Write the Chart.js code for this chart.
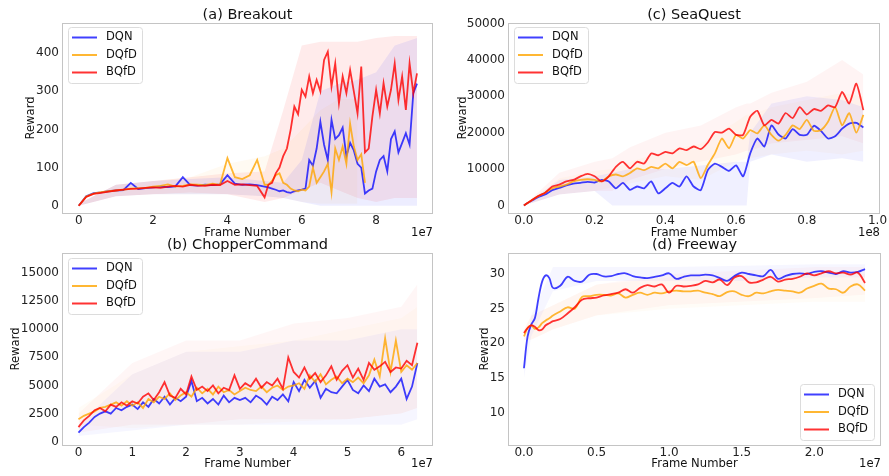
<!DOCTYPE html>
<html>
<head>
<meta charset="utf-8">
<script src="https://cdn.jsdelivr.net/npm/chart.js@4.4.1/dist/chart.umd.min.js"></script>
<style>
  body { margin: 0; background: #fff; width: 889px; height: 476px; position: relative; overflow: hidden; }
  canvas { position: absolute; }
</style>
</head>
<body>
<canvas id="breakout" width="445" height="240" style="left:0px;top:0px"></canvas>
<canvas id="seaquest" width="444" height="240" style="left:445px;top:0px"></canvas>
<canvas id="chopper" width="445" height="240" style="left:0px;top:236px"></canvas>
<canvas id="freeway" width="444" height="240" style="left:445px;top:236px"></canvas>
<script>
const FONT = "'DejaVu Sans', sans-serif";
const seriesNames = ['DQN', 'DQfD', 'BQfD'];
const lineColors = ['rgba(0, 0, 255, 0.75)', 'rgba(255, 165, 0, 0.8)', 'rgba(255, 0, 0, 0.8)'];
const bandRgb = ['0, 0, 255', '255, 165, 0', '255, 0, 0'];

// (a) Breakout, frames in 1e7
const breakoutFrames = [0, 0.2, 0.4, 0.6, 0.8, 1.0, 1.2, 1.4, 1.6, 1.8, 2.0, 2.2, 2.4, 2.6, 2.8, 3.0, 3.2, 3.4, 3.6, 3.8, 4.0, 4.2, 4.4, 4.6, 4.8, 5.0,
  5.1, 5.2, 5.3, 5.4, 5.5, 5.6, 5.7, 5.8, 5.9, 6.0, 6.1, 6.2, 6.3, 6.4, 6.5, 6.6, 6.7, 6.8, 6.9,
  7.0, 7.1, 7.2, 7.3, 7.4, 7.5, 7.6, 7.7, 7.8, 7.9, 8.0, 8.1, 8.2, 8.3, 8.4, 8.5, 8.6, 8.7, 8.8, 8.9, 9.0, 9.1];
const breakoutDQN = [0, 25, 33, 35, 38, 40, 41, 60, 44, 46, 48, 50, 49, 51, 75, 54, 53, 55, 54, 56, 80, 58, 55, 56, 54, 50,
  48, 45, 42, 38, 40, 36, 34, 38, 40, 42, 45, 120, 105, 150, 220, 160, 120, 225, 175,
  185, 205, 130, 165, 145, 110, 100, 32, 40, 45, 90, 120, 130, 90, 175, 195, 140, 165, 190, 160, 295, 320];
const breakoutDQfD = [0, 24, 32, 36, 38, 40, 42, 45, 46, 47, 50, 52, 56, 50, 52, 56, 55, 54, 58, 55, 125, 75, 70, 80, 120, 55,
  55, 65, 80, 85, 60, 55, 45, 40, 38, 42, 40, 50, 100, 60, 75, 90, 110, 35, 150,
  120, 155, 110, 215, 155, 120, 135, 60, null, null, null, null, null, null, null, null, null, null, null, null, null, null];
const breakoutBQfD = [0, 23, 31, 34, 37, 40, 42, 44, 45, 47, 48, 47, 50, 52, 50, 55, 53, 52, 55, 54, 65, 55, 56, 54, 52, 22,
  55, 60, 85, 100, 130, 150, 199, 260, 240, 304, 286, 339, 295, 330, 300, 382, 404, 312, 373,
  269, 339, 295, 356, 300, 242, 365, 140, 150, 234, 304, 242, 321, 260, 304, 373, 277, 339, 251, 373, 295, 347];
const breakoutBandFrames = [0, 1, 2, 3, 4, 5, 5.5, 6, 6.5, 7, 7.5, 8, 8.5, 9.1];
const breakoutBandLow = [
  [0, 25, 30, 30, 30, 25, 20, 10, 0, 0, 0, 0, 0, 0],
  [0, 25, 30, 30, 30, 25, 20, 10, 5, 5, 5, null, null, null],
  [0, 25, 30, 35, 30, 10, 20, 40, 60, 40, 20, 10, 20, 20]];
const breakoutBandHigh = [
  [5, 55, 65, 70, 75, 65, 60, 120, 300, 320, 330, 350, 420, 440],
  [5, 55, 65, 75, 110, 130, 150, 200, 250, 280, 280, null, null, null],
  [5, 55, 65, 75, 85, 90, 250, 420, 430, 430, 430, 440, 445, 445]];
const breakoutXTicks = [0, 2, 4, 6, 8];
const breakoutYTicks = [0, 100, 200, 300, 400];

// (c) SeaQuest, frames in 1e8
const seaFrames = [0, 0.02, 0.04, 0.06, 0.08, 0.10, 0.12, 0.14, 0.16, 0.18, 0.20, 0.22, 0.24, 0.26, 0.28, 0.30, 0.32, 0.34, 0.36, 0.38,
  0.40, 0.42, 0.44, 0.46, 0.48, 0.50, 0.52, 0.54, 0.56, 0.58, 0.60, 0.62, 0.64, 0.66, 0.68, 0.70, 0.72, 0.74, 0.76, 0.78,
  0.80, 0.82, 0.84, 0.86, 0.88, 0.90, 0.92, 0.94, 0.96];
const seaDQN = [0, 1200, 2300, 3000, 4200, 4800, 5500, 6000, 6200, 6500, 6300, 7000, 6600, 4700, 6200, 4300, 5200, 4700, 6600, 3300,
  4700, 6200, 5200, 8000, 5200, 4200, 9700, 11500, 10600, 9500, 11000, 8000, 14300, 18400, 16200, 22000, 19500, 18400, 21000, 19400,
  19400, 21900, 20500, 18400, 19000, 21100, 22500, 22700, 21400];
const seaDQfD = [0, 1300, 2500, 3500, 4700, 5200, 5700, 6600, 7000, 7200, 7000, 6600, 8000, 8500, 8000, 8900, 10200, 9700, 10600, 10200,
  11500, 10200, 12000, 11100, 12000, 7500, 11100, 14300, 18400, 15700, 19400, 18400, 20700, 19800, 22000, 19400, 17800, 19400, 22000, 21000,
  23500, 20500, 20700, 23000, 27000, 22000, 25400, 20000, 24900];
const seaBQfD = [0, 1300, 2600, 3500, 5200, 5700, 6600, 7000, 8000, 8700, 8000, 6600, 8000, 10600, 12000, 10200, 12000, 11500, 14300, 13800,
  14700, 14300, 15700, 15200, 16200, 15500, 17300, 20200, 20000, 21100, 19400, 19400, 24400, 26000, 22000, 23500, 22500, 25400, 24000, 27000,
  25000, 26500, 26000, 27500, 27000, 31200, 28000, 33500, 26200];
const seaBandFrames = [0, 0.1, 0.2, 0.25, 0.3, 0.4, 0.5, 0.6, 0.63, 0.64, 0.7, 0.8, 0.9, 0.96];
const seaBandLow = [
  [0, 3000, 4000, 0, 0, 0, 0, 0, 0, 12000, 14000, 12000, 13000, 12000],
  [0, 3000, 4000, 5000, 6000, 8000, 7000, 12000, 13000, 13000, 14000, 15000, 14000, 15000],
  [0, 3000, 4000, 4000, 7000, 10000, 12000, 14000, 15000, 15000, 17000, 18000, 19000, 17000]];
const seaBandHigh = [
  [0, 7000, 8000, 9000, 10000, 10000, 11000, 12000, 12000, 20000, 28000, 30000, 29000, 27000],
  [0, 7500, 9500, 10000, 12000, 15000, 17000, 23000, 25000, 25000, 27000, 29000, 31000, 30000],
  [0, 9000, 12000, 13000, 16000, 20000, 22000, 27000, 28000, 28000, 31000, 34000, 40000, 36000]];
const seaXTicks = [0, 0.2, 0.4, 0.6, 0.8, 1.0];
const seaYTicks = [0, 10000, 20000, 30000, 40000, 50000];

// (b) ChopperCommand, frames in 1e7
const chopperFrames = [0, 0.1, 0.2, 0.3, 0.4, 0.5, 0.6, 0.7, 0.8, 0.9, 1.0, 1.1, 1.2, 1.3, 1.4, 1.5, 1.6, 1.7, 1.8, 1.9,
  2.0, 2.1, 2.2, 2.3, 2.4, 2.5, 2.6, 2.7, 2.8, 2.9, 3.0, 3.1, 3.2, 3.3, 3.4, 3.5, 3.6, 3.7, 3.8, 3.9,
  4.0, 4.1, 4.2, 4.3, 4.4, 4.5, 4.6, 4.7, 4.8, 4.9, 5.0, 5.1, 5.2, 5.3, 5.4, 5.5, 5.6, 5.7, 5.8, 5.9,
  6.0, 6.1, 6.2, 6.3];
const chopperDQN = [800, 1300, 1700, 2200, 2500, 2700, 2500, 3000, 2800, 3100, 3300, 2900, 3500, 3100, 3800, 3400, 4000, 3300, 3900, 3600,
  4000, 5400, 3600, 3900, 3400, 3800, 3300, 4100, 3500, 3900, 3700, 3900, 3500, 4100, 3800, 3300, 4000, 3700, 4200, 3600,
  5300, 4500, 5500, 4800, 5400, 3900, 4700, 4400, 4300, 4900, 5500, 4600, 4300, 5000, 4500, 5600, 4900, 5100, 4400, 4900,
  5600, 3800, 4900, 7000];
const chopperDQfD = [2000, 2300, 2500, 2700, 3000, 3100, 3300, 3500, 3200, 3600, 3200, 3500, 3000, 3800, 3500, 4000, 3800, 4300, 3700, 4100,
  4400, 4000, 4800, 4300, 4700, 4200, 4900, 4400, 4600, 4200, 4500, 4800, 4600, 4500, 4900, 4400, 4800, 5000, 4600, 4900,
  5000, 5200, 4700, 5900, 5300, 6000, 5100, 5500, 5800, 5200, 5600, 5300, 5700, 5200, 5900, 7300, 5800, 9200, 6200, 9000,
  6200, 6800, 6400, 7000];
const chopperBQfD = [1300, 1900, 2300, 2800, 3000, 2700, 3300, 3100, 3500, 3200, 3600, 3400, 4000, 4300, 3700, 4400, 5300, 4100, 3900, 4700,
  4200, 5800, 4600, 4900, 4500, 5000, 4300, 4800, 4600, 5900, 4700, 5200, 4900, 5600, 4800, 5300, 5000, 5600, 4700, 7500,
  6200, 5700, 6600, 5600, 6100, 5300, 5900, 6700, 5500, 6300, 6800, 5700, 6500, 5500, 7000, 6400, 6700, 7100, 6200, 6600,
  6500, 7200, 6800, 8800];
const chopperBandFrames = [0, 1, 2, 3, 4, 5, 6, 6.3];
const chopperBandLow = [
  [500, 1000, 1500, 1500, 1500, 1500, 1500, 2000],
  [1500, 1200, 1500, 1500, 1800, 2000, 2500, 3000],
  [800, 1500, 1500, 2000, 2000, 2000, 2500, 3000]];
const chopperBandHigh = [
  [1500, 6000, 8000, 8000, 9000, 9000, 10000, 10000],
  [3000, 6000, 8000, 8500, 9000, 10000, 11000, 12000],
  [2500, 7000, 9000, 9000, 10500, 11000, 12000, 14000]];
const chopperXTicks = [0, 1, 2, 3, 4, 5, 6];
const chopperYTicks = [0, 2500, 5000, 7500, 10000, 12500, 15000];

// (d) Freeway, frames in 1e7
const freewayFrames = [0, 0.025, 0.05, 0.075, 0.1, 0.125, 0.15, 0.175, 0.2, 0.25, 0.3, 0.35, 0.4, 0.45, 0.5, 0.55, 0.6, 0.65, 0.7, 0.75,
  0.8, 0.85, 0.9, 0.95, 1.0, 1.05, 1.1, 1.15, 1.2, 1.25, 1.3, 1.35, 1.4, 1.45, 1.5, 1.55, 1.6, 1.65, 1.7, 1.75,
  1.8, 1.85, 1.9, 1.95, 2.0, 2.05, 2.1, 2.15, 2.2, 2.25, 2.3, 2.35];
const freewayDQN = [16.4, 21.0, 22.7, 23.6, 26.5, 28.9, 29.8, 29.4, 28.0, 28.3, 29.6, 29.0, 28.9, 29.9, 30.0, 29.65, 29.7, 30.0, 30.1, 29.7,
  29.5, 29.4, 29.6, 29.8, 30.1, 29.3, 29.6, 29.8, 29.8, 29.9, 29.8, 29.4, 29.0, 29.7, 30.2, 30.0, 29.8, 29.7, 30.6, 29.3,
  29.7, 30.0, 30.1, 30.0, 30.3, 30.4, 30.2, 30.0, 30.4, 30.2, 30.3, 30.7];
const freewayDQfD = [21.0, 22.2, 22.6, 22.1, 22.3, 22.9, 23.3, 23.6, 24.0, 24.6, 25.2, 25.0, 26.7, 26.8, 27.0, 27.0, 26.9, 27.2, 26.6, 27.0,
  27.3, 27.0, 27.3, 27.2, 27.5, 27.6, 27.5, 27.5, 27.6, 27.3, 27.1, 26.8, 27.4, 27.5, 27.0, 26.8, 27.3, 27.2, 27.5, 27.7,
  27.6, 27.5, 27.3, 27.9, 28.3, 28.6, 27.9, 27.8, 27.3, 28.2, 28.5, 27.6];
const freewayBQfD = [21.5, 22.2, 22.6, 22.4, 21.9, 22.0, 22.6, 22.9, 23.2, 23.5, 24.3, 25.2, 26.3, 26.5, 26.6, 26.9, 27.1, 27.3, 27.8, 27.3,
  28.0, 28.4, 28.2, 28.5, 27.3, 28.3, 28.2, 28.3, 28.5, 29.0, 28.8, 29.2, 28.4, 29.5, 29.7, 28.8, 28.8, 29.2, 29.6, 28.9,
  29.2, 29.3, 29.6, 30.1, 29.8, 30.1, 30.4, 30.1, 30.2, 29.9, 30.2, 28.7];
const freewayBandFrames = [0, 0.05, 0.2, 0.5, 1, 1.5, 2, 2.35];
const freewayBandLow = [
  [15, 21, 27.5, 29, 29, 29, 29.5, 29.5],
  [20.5, 20.5, 22, 24, 25, 25.5, 26, 26],
  [20.5, 20.5, 22, 24, 25.5, 26, 26.5, 27]];
const freewayBandHigh = [
  [17, 24, 31, 31, 31, 31.2, 31.4, 31.4],
  [22, 24, 25.5, 28.5, 29.5, 29.5, 30, 30],
  [22, 24, 25.5, 28.5, 30, 30.5, 31, 31]];
const freewayXTicks = [0, 0.5, 1.0, 1.5, 2.0];
const freewayYTicks = [10, 15, 20, 25, 30];

function points(xs, ys) {
  return xs.map((x, i) => ({ x: x, y: ys[i] }));
}

function decor(p) {
  return {
    id: 'decor',
    afterDraw(chart) {
      const ctx = chart.ctx;
      const a = chart.chartArea;
      const cx = (a.left + a.right) / 2;
      ctx.save();
      ctx.strokeStyle = '#c4c4c4';
      ctx.lineWidth = 1;
      ctx.strokeRect(a.left + 0.5, a.top + 0.5, a.right - a.left - 1, a.bottom - a.top);

      ctx.fillStyle = '#111';
      ctx.textBaseline = 'middle';
      ctx.textAlign = 'center';
      ctx.font = '14.5px ' + FONT;
      ctx.fillText(p.title, cx, p.titleY - p.T);

      ctx.font = '11.6px ' + FONT;
      ctx.fillText('Frame Number', cx, p.xTitleY - p.T);
      ctx.textAlign = 'right';
      ctx.fillText(p.offset, a.right, p.xTitleY - p.T);

      ctx.save();
      ctx.translate(p.yTitleX - p.L, (a.top + a.bottom) / 2);
      ctx.rotate(-Math.PI / 2);
      ctx.textAlign = 'center';
      ctx.fillText('Reward', 0, 0);
      ctx.restore();

      // legend box
      const lx = p.legend[0] - p.L, ly = p.legend[1] - p.T;
      ctx.beginPath();
      ctx.roundRect(lx + 0.5, ly + 0.5, 74, 56, 3);
      ctx.fillStyle = 'rgba(255,255,255,0.85)';
      ctx.fill();
      ctx.strokeStyle = '#dcdcdc';
      ctx.stroke();
      ctx.font = '11.5px ' + FONT;
      ctx.textAlign = 'left';
      seriesNames.forEach((name, i) => {
        const y = ly + 10.5 + i * 17.5;
        ctx.strokeStyle = lineColors[i];
        ctx.lineWidth = 2;
        ctx.beginPath();
        ctx.moveTo(lx + 4, y);
        ctx.lineTo(lx + 29, y);
        ctx.stroke();
        ctx.fillStyle = '#111';
        ctx.fillText(name, lx + 38, y);
      });
      ctx.restore();
    }
  };
}

function makePanel(p) {
  const datasets = [];
  for (let i = 0; i < 3; i++) {
    datasets.push({
      data: points(p.bandX, p.bandLow[i]),
      borderColor: 'transparent', borderWidth: 0, pointRadius: 0, fill: false, order: 10
    });
    datasets.push({
      data: points(p.bandX, p.bandHigh[i]),
      borderColor: 'transparent', borderWidth: 0, pointRadius: 0,
      fill: '-1', backgroundColor: 'rgba(' + bandRgb[i] + ', ' + p.bandAlpha[i] + ')', order: 10
    });
  }
  p.series.forEach((vals, i) => {
    datasets.push({
      label: seriesNames[i],
      data: points(p.frames, vals),
      borderColor: lineColors[i],
      borderWidth: 1.8,
      pointRadius: 0,
      fill: false,
      tension: p.tension,
      spanGaps: false,
      order: 3 - i
    });
  });

  new Chart(document.getElementById(p.id).getContext('2d'), {
    type: 'line',
    data: { datasets: datasets },
    options: {
      responsive: false,
      animation: false,
      devicePixelRatio: 1,
      layout: { padding: { left: 0, top: p.ca[1] - p.T, right: p.L + p.W - p.ca[2], bottom: 0 } },
      plugins: { legend: { display: false }, tooltip: { enabled: false } },
      scales: {
        x: {
          type: 'linear', min: p.xRange[0], max: p.xRange[1],
          grid: { display: false, drawTicks: false }, border: { display: false },
          ticks: {
            font: { family: FONT, size: 12 }, color: '#222', padding: 1,
            autoSkip: false, maxRotation: 0, callback: p.xFmt
          },
          afterBuildTicks: s => { s.ticks = p.xTicks.map(v => ({ value: v })); },
          afterFit: s => { s.height = p.T + p.H - p.ca[3]; }
        },
        y: {
          type: 'linear', min: p.yRange[0], max: p.yRange[1],
          grid: { display: false, drawTicks: false }, border: { display: false },
          ticks: {
            font: { family: FONT, size: 12 }, color: '#222', padding: 3,
            autoSkip: false, callback: v => String(v)
          },
          afterBuildTicks: s => { s.ticks = p.yTicks.map(v => ({ value: v })); },
          afterFit: s => { s.width = p.ca[0] - p.L; }
        }
      }
    },
    plugins: [decor(p)]
  });
}

makePanel({
  id: 'breakout', L: 0, T: 0, W: 445, H: 240, ca: [62, 23, 433, 213],
  title: '(a) Breakout', titleY: 15, xTitleY: 233, yTitleX: 31, offset: '1e7', legend: [68, 27],
  frames: breakoutFrames, series: [breakoutDQN, breakoutDQfD, breakoutBQfD], tension: 0,
  bandX: breakoutBandFrames, bandLow: breakoutBandLow, bandHigh: breakoutBandHigh, bandAlpha: [0.07, 0.05, 0.08],
  xRange: [-0.45, 9.53], yRange: [-19, 479], xTicks: breakoutXTicks, yTicks: breakoutYTicks,
  xFmt: v => String(v)
});

makePanel({
  id: 'seaquest', L: 445, T: 0, W: 444, H: 240, ca: [508, 23, 880, 213],
  title: '(c) SeaQuest', titleY: 15, xTitleY: 233, yTitleX: 463, offset: '1e8', legend: [514, 27],
  frames: seaFrames, series: [seaDQN, seaDQfD, seaBQfD], tension: 0.2,
  bandX: seaBandFrames, bandLow: seaBandLow, bandHigh: seaBandHigh, bandAlpha: [0.06, 0.04, 0.045],
  xRange: [-0.045, 1.007], yRange: [-2080, 50150], xTicks: seaXTicks, yTicks: seaYTicks,
  xFmt: v => v.toFixed(1)
});

makePanel({
  id: 'chopper', L: 0, T: 236, W: 445, H: 240, ca: [62, 253, 433, 445],
  title: '(b) ChopperCommand', titleY: 245, xTitleY: 464, yTitleX: 16, offset: '1e7', legend: [68, 258],
  frames: chopperFrames, series: [chopperDQN, chopperDQfD, chopperBQfD], tension: 0,
  bandX: chopperBandFrames, bandLow: chopperBandLow, bandHigh: chopperBandHigh, bandAlpha: [0.035, 0.03, 0.035],
  xRange: [-0.306, 6.59], yRange: [-294, 16780], xTicks: chopperXTicks, yTicks: chopperYTicks,
  xFmt: v => String(v)
});

makePanel({
  id: 'freeway', L: 445, T: 236, W: 444, H: 240, ca: [508, 253, 881, 445],
  title: '(d) Freeway', titleY: 245, xTitleY: 464, yTitleX: 485, offset: '1e7', legend: [800, 384],
  frames: freewayFrames, series: [freewayDQN, freewayDQfD, freewayBQfD], tension: 0.35,
  bandX: freewayBandFrames, bandLow: freewayBandLow, bandHigh: freewayBandHigh, bandAlpha: [0.035, 0.03, 0.03],
  xRange: [-0.11, 2.46], yRange: [5.33, 33.03], xTicks: freewayXTicks, yTicks: freewayYTicks,
  xFmt: v => v.toFixed(1)
});
</script>
</body>
</html>
